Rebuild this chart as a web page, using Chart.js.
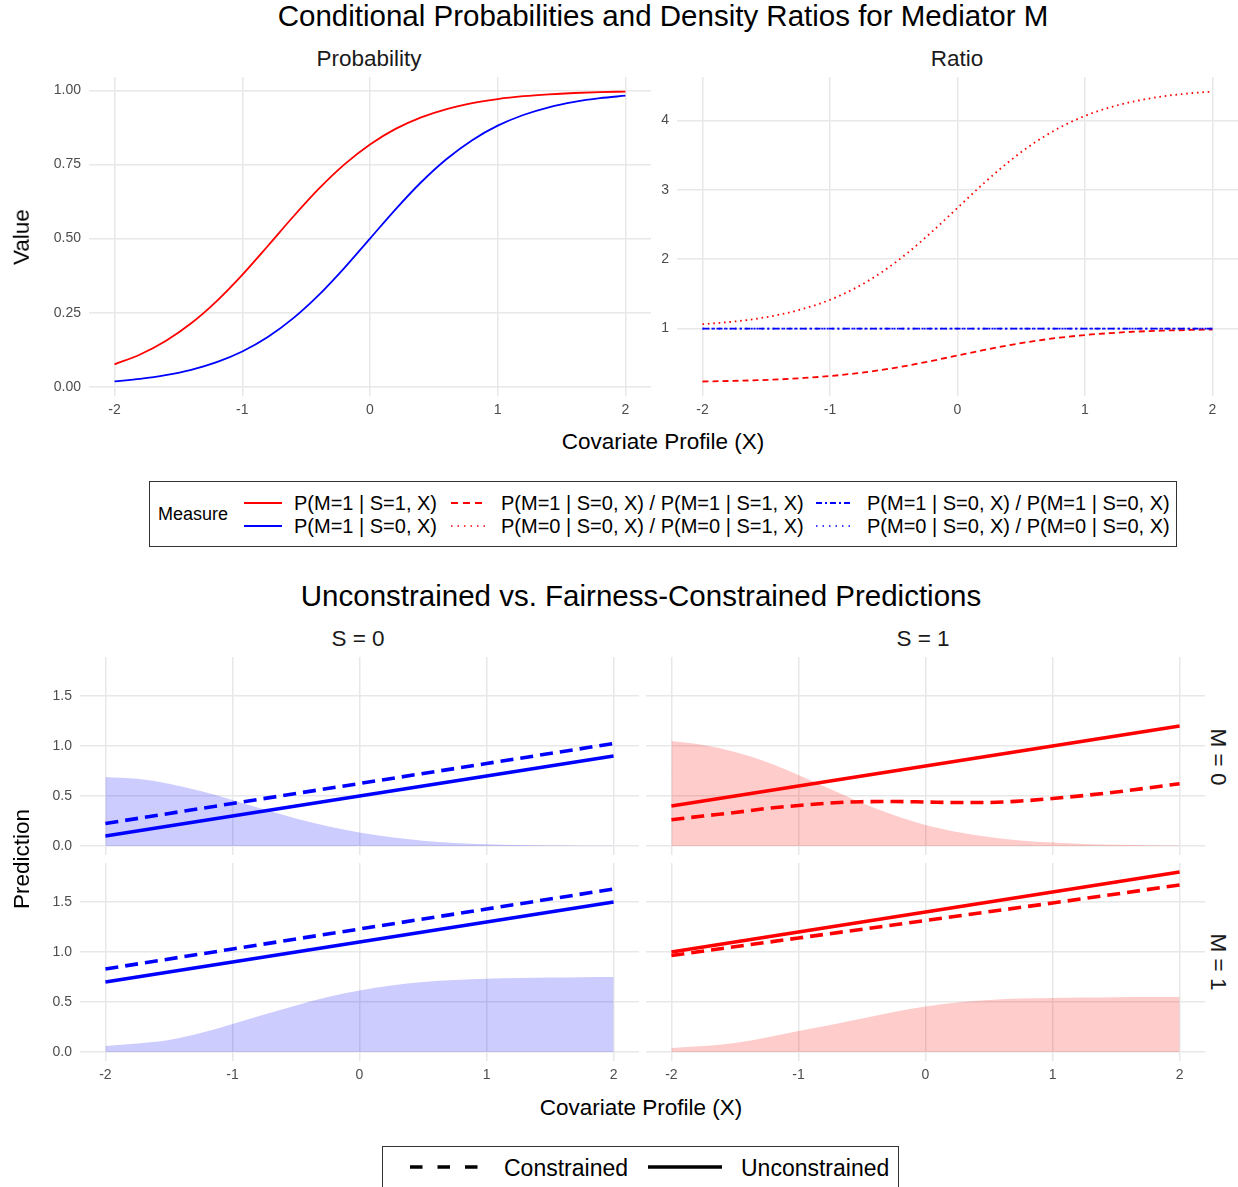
<!DOCTYPE html>
<html><head><meta charset="utf-8">
<script src="https://cdn.jsdelivr.net/npm/chart.js@4.4.1/dist/chart.umd.min.js"></script>
<style>
html,body{margin:0;padding:0;background:#fff;}
#root{position:relative;width:1238px;height:1187px;overflow:hidden;font-family:"Liberation Sans",Arial,Helvetica,sans-serif;color:#1a1a1a;}
.t{position:absolute;white-space:nowrap;transform:translate(-50%,-50%);line-height:1;}
.l{position:absolute;white-space:nowrap;transform:translateY(-50%);line-height:1;}
.rl{position:absolute;white-space:nowrap;transform:translate(-50%,-50%) rotate(-90deg);line-height:1;}
.rr{position:absolute;white-space:nowrap;transform:translate(-50%,-50%) rotate(90deg);line-height:1;}
canvas{position:absolute;}
.box{position:absolute;box-sizing:border-box;border:1px solid #333;}
</style></head>
<body><div id="root">
<div class="t" style="left:663px;top:16px;font-size:29.5px;color:#000">Conditional Probabilities and Density Ratios for Mediator M</div>
<div class="t" style="left:369px;top:59px;font-size:22.5px">Probability</div>
<div class="t" style="left:957px;top:59px;font-size:22.5px">Ratio</div>
<div class="t" style="left:663px;top:442px;font-size:22.5px;color:#000">Covariate Profile (X)</div>
<div class="rl" style="left:22px;top:237px;font-size:22.5px;color:#000">Value</div>

<div class="box" style="left:149px;top:481px;width:1028px;height:66px"></div>
<div class="l" style="left:158px;top:514px;font-size:18px;color:#000">Measure</div>
<div class="l" style="left:294px;top:503px;font-size:20px;color:#000">P(M=1 | S=1, X)</div>
<div class="l" style="left:294px;top:526px;font-size:20px;color:#000">P(M=1 | S=0, X)</div>
<div class="l" style="left:501px;top:503px;font-size:20px;color:#000">P(M=1 | S=0, X) / P(M=1 | S=1, X)</div>
<div class="l" style="left:501px;top:526px;font-size:20px;color:#000">P(M=0 | S=0, X) / P(M=0 | S=1, X)</div>
<div class="l" style="left:867px;top:503px;font-size:20px;color:#000">P(M=1 | S=0, X) / P(M=1 | S=0, X)</div>
<div class="l" style="left:867px;top:526px;font-size:20px;color:#000">P(M=0 | S=0, X) / P(M=0 | S=0, X)</div>

<div class="t" style="left:641px;top:596px;font-size:29.5px;color:#000">Unconstrained vs. Fairness-Constrained Predictions</div>
<div class="t" style="left:358px;top:639px;font-size:22.5px">S = 0</div>
<div class="t" style="left:923px;top:639px;font-size:22.5px">S = 1</div>
<div class="rr" style="left:1218px;top:757px;font-size:22.5px">M = 0</div>
<div class="rr" style="left:1218px;top:962px;font-size:22.5px">M = 1</div>
<div class="t" style="left:641px;top:1108px;font-size:22.5px;color:#000">Covariate Profile (X)</div>
<div class="rl" style="left:22px;top:859px;font-size:22.5px;color:#000">Prediction</div>

<div class="box" style="left:382px;top:1146px;width:517px;height:60px"></div>
<div class="l" style="left:504px;top:1168px;font-size:23px;color:#000">Constrained</div>
<div class="l" style="left:741px;top:1168px;font-size:23px;color:#000">Unconstrained</div>

<svg width="1238" height="1187" style="position:absolute;left:0;top:0;pointer-events:none">
  <line x1="244" y1="503" x2="282" y2="503" stroke="#ff0000" stroke-width="1.8"/>
  <line x1="244" y1="526" x2="282" y2="526" stroke="#0000ff" stroke-width="1.8"/>
  <line x1="451" y1="503" x2="487" y2="503" stroke="#ff0000" stroke-width="1.8" stroke-dasharray="7,5"/>
  <line x1="451" y1="526" x2="487" y2="526" stroke="#ff0000" stroke-width="1.6" stroke-dasharray="1.5,5"/>
  <line x1="816" y1="503" x2="853" y2="503" stroke="#0000ff" stroke-width="1.8" stroke-dasharray="6,3,2,3"/>
  <line x1="816" y1="526" x2="853" y2="526" stroke="#0000ff" stroke-width="1.6" stroke-dasharray="1.5,5"/>
  <line x1="410" y1="1167" x2="482" y2="1167" stroke="#000" stroke-width="3.6" stroke-dasharray="12.5,15"/>
  <line x1="648" y1="1167" x2="722" y2="1167" stroke="#000" stroke-width="3.6"/>
</svg>
</div>
<script>
// ---------- DATA ----------
const xTicks = [-2, -1, 0, 1, 2];
const xTickLabels = ["-2", "-1", "0", "1", "2"];
const probTicks = [0, 0.25, 0.5, 0.75, 1];
const probTickLabels = ["0.00", "0.25", "0.50", "0.75", "1.00"];
const ratioTicks = [1, 2, 3, 4];
const ratioTickLabels = ["1", "2", "3", "4"];
const predTicks = [0, 0.5, 1, 1.5];
const predTickLabels = ["0.0", "0.5", "1.0", "1.5"];

// top panels: covariate grid
const xProfile = [-2, -1.8, -1.6, -1.4, -1.2, -1, -0.8, -0.6, -0.4, -0.2, 0, 0.2, 0.4, 0.6, 0.8, 1, 1.2, 1.4, 1.6, 1.8, 2];
const pM1_S1 = [0.0759, 0.1091, 0.1545, 0.2142, 0.2891, 0.3775, 0.4750, 0.5744, 0.6682, 0.7503, 0.8176, 0.8699, 0.9089, 0.9370, 0.9569, 0.9707, 0.9802, 0.9866, 0.9910, 0.9939, 0.9959];
const pM1_S0 = [0.0180, 0.0266, 0.0392, 0.0573, 0.0832, 0.1192, 0.1680, 0.2315, 0.3100, 0.4013, 0.5000, 0.5987, 0.6900, 0.7685, 0.8320, 0.8808, 0.9168, 0.9427, 0.9608, 0.9734, 0.9820];
const ratioM1_S0vsS1 = [0.237, 0.244, 0.254, 0.267, 0.288, 0.316, 0.354, 0.403, 0.464, 0.535, 0.612, 0.688, 0.759, 0.820, 0.869, 0.907, 0.935, 0.956, 0.970, 0.979, 0.986];
const ratioM0_S0vsS1 = [1.063, 1.093, 1.136, 1.200, 1.290, 1.415, 1.585, 1.806, 2.079, 2.397, 2.741, 3.085, 3.402, 3.676, 3.897, 4.067, 4.192, 4.282, 4.346, 4.389, 4.419];
const ratioM1_S0vsS0 = [1, 1, 1, 1, 1, 1, 1, 1, 1, 1, 1, 1, 1, 1, 1, 1, 1, 1, 1, 1, 1];
const ratioM0_S0vsS0 = [1, 1, 1, 1, 1, 1, 1, 1, 1, 1, 1, 1, 1, 1, 1, 1, 1, 1, 1, 1, 1];

// bottom panels
const xDens = [-2, -1.75, -1.5, -1.25, -1, -0.75, -0.5, -0.25, 0, 0.25, 0.5, 0.75, 1, 1.25, 1.5, 1.75, 2];
const densS0M0 = [0.69, 0.672, 0.623, 0.55, 0.46, 0.365, 0.276, 0.198, 0.135, 0.087, 0.053, 0.031, 0.018, 0.010, 0.005, 0.003, 0.002];
const densS1M0 = [1.05, 1.01, 0.94, 0.84, 0.71, 0.57, 0.43, 0.31, 0.21, 0.14, 0.09, 0.055, 0.034, 0.02, 0.013, 0.008, 0.005];
const densS0M1 = [0.06, 0.085, 0.12, 0.19, 0.28, 0.375, 0.465, 0.55, 0.615, 0.665, 0.70, 0.72, 0.733, 0.74, 0.745, 0.748, 0.75];
const densS1M1 = [0.04, 0.06, 0.09, 0.145, 0.21, 0.27, 0.335, 0.40, 0.455, 0.495, 0.52, 0.535, 0.54, 0.545, 0.548, 0.55, 0.55];

const xLine = [-2, -1, 0, 1, 2];
const uncS0M0 = [0.1, 0.3, 0.5, 0.7, 0.9];
const conS0M0 = [0.225, 0.425, 0.625, 0.825, 1.025];
const uncS0M1 = [0.7, 0.9, 1.1, 1.3, 1.5];
const conS0M1 = [0.83, 1.03, 1.23, 1.43, 1.63];
const uncS1M0 = [0.4, 0.6, 0.8, 1.0, 1.2];
const conS1M0 = [0.263, 0.30, 0.335, 0.375, 0.405, 0.43, 0.443, 0.445, 0.44, 0.435, 0.435, 0.45, 0.475, 0.505, 0.54, 0.58, 0.623]; // on xDens
const uncS1M1 = [1.0, 1.2, 1.4, 1.6, 1.8];
const conS1M1 = [0.965, 1.14, 1.315, 1.49, 1.67];

// ---------- STYLE ----------
const RED = '#ff0000', BLUE = '#0000ff';
const RED_FILL = 'rgba(255,0,0,0.2)', BLUE_FILL = 'rgba(0,0,255,0.2)';
const GRID = '#e8e8e8', TICK = '#4d4d4d';
const FONT = '"Liberation Sans", Arial, sans-serif';
Chart.defaults.font.family = FONT;

const pts = (xs, ys) => xs.map((x, i) => ({x: x, y: ys[i]}));
const line = (xs, ys, color, width, dash, curve) => ({
  data: pts(xs, ys), borderColor: color, borderWidth: width, borderDash: dash || [],
  fill: false, pointRadius: 0, order: 1,
  tension: curve ? 0.4 : 0, cubicInterpolationMode: curve ? 'monotone' : 'default'
});
const area = (xs, ys, color) => ({
  data: pts(xs, ys), backgroundColor: color, borderColor: 'rgba(0,0,0,0)', borderWidth: 0,
  fill: 'origin', pointRadius: 0, order: 2, tension: 0.4, cubicInterpolationMode: 'monotone'
});

const root = document.getElementById('root');
function zeroPad(s) { s.paddingTop = 0; s.paddingBottom = 0; s.paddingLeft = 0; s.paddingRight = 0; }
function panel(o) {
  const c = document.createElement('canvas');
  const W = o.yw + o.pw, H = o.ph + o.xh;
  c.width = W; c.height = H;
  c.style.left = (o.px - o.yw) + 'px'; c.style.top = o.py + 'px';
  c.style.width = W + 'px'; c.style.height = H + 'px';
  root.insertBefore(c, root.firstChild);
  new Chart(c, {
    type: 'line',
    data: {datasets: o.datasets},
    options: {
      responsive: false, maintainAspectRatio: false, animation: false, devicePixelRatio: 1,
      layout: {padding: 0},
      plugins: {legend: {display: false}, tooltip: {enabled: false}},
      scales: {
        x: {
          type: 'linear', min: -2.2, max: 2.2,
          afterBuildTicks: s => { s.ticks = xTicks.map(v => ({value: v})); },
          afterFit: s => { s.height = o.xh; zeroPad(s); },
          grid: {color: GRID, lineWidth: 1.5, drawTicks: false},
          border: {display: false},
          ticks: {display: o.showX, color: TICK, font: {size: 14}, padding: 6, maxRotation: 0, autoSkip: false,
                  callback: v => xTickLabels[xTicks.indexOf(v)]}
        },
        y: {
          type: 'linear', min: o.ymin, max: o.ymax,
          afterBuildTicks: s => { s.ticks = o.yticks.map(v => ({value: v})); },
          afterFit: s => { s.width = o.yw; zeroPad(s); },
          grid: {color: GRID, lineWidth: 1.5, drawTicks: false},
          border: {display: false},
          ticks: {display: o.showY, color: TICK, font: {size: 14}, padding: 8, autoSkip: false,
                  callback: v => o.ylabels[o.yticks.indexOf(v)]}
        }
      }
    }
  });
}

// Top-left: Probability
panel({px: 89, py: 77, pw: 562, ph: 319, yw: 60, xh: 30, ymin: -0.031, ymax: 1.045,
  yticks: probTicks, ylabels: probTickLabels, showX: true, showY: true,
  datasets: [
    line(xProfile, pM1_S1, RED, 1.8, [], true),
    line(xProfile, pM1_S0, BLUE, 1.8, [], true)
  ]});
// Top-right: Ratio
panel({px: 677, py: 77, pw: 561, ph: 319, yw: 35, xh: 30, ymin: 0.028, ymax: 4.628,
  yticks: ratioTicks, ylabels: ratioTickLabels, showX: true, showY: true,
  datasets: [
    line(xProfile, ratioM1_S0vsS0, BLUE, 1.8, [6, 3, 2, 3], true),
    line(xProfile, ratioM0_S0vsS0, BLUE, 1.8, [1.6, 3.8], true),
    line(xProfile, ratioM1_S0vsS1, RED, 1.8, [6, 4], true),
    line(xProfile, ratioM0_S0vsS1, RED, 1.8, [1.6, 3.8], true)
  ]});

const DASH = [13, 7];
// Bottom: S=0, M=0
panel({px: 80, py: 657, pw: 559, ph: 198, yw: 60, xh: 0, ymin: -0.09, ymax: 1.89,
  yticks: predTicks, ylabels: predTickLabels, showX: false, showY: true,
  datasets: [
    line(xLine, conS0M0, BLUE, 3.6, DASH, false),
    line(xLine, uncS0M0, BLUE, 3.6, [], false),
    area(xDens, densS0M0, BLUE_FILL)
  ]});
// S=1, M=0
panel({px: 646, py: 657, pw: 559, ph: 198, yw: 0, xh: 0, ymin: -0.09, ymax: 1.89,
  yticks: predTicks, ylabels: predTickLabels, showX: false, showY: false,
  datasets: [
    line(xDens, conS1M0, RED, 3.6, DASH, true),
    line(xLine, uncS1M0, RED, 3.6, [], false),
    area(xDens, densS1M0, RED_FILL)
  ]});
// S=0, M=1
panel({px: 80, py: 863, pw: 559, ph: 198, yw: 60, xh: 30, ymin: -0.09, ymax: 1.89,
  yticks: predTicks, ylabels: predTickLabels, showX: true, showY: true,
  datasets: [
    line(xLine, conS0M1, BLUE, 3.6, DASH, false),
    line(xLine, uncS0M1, BLUE, 3.6, [], false),
    area(xDens, densS0M1, BLUE_FILL)
  ]});
// S=1, M=1
panel({px: 646, py: 863, pw: 559, ph: 198, yw: 0, xh: 30, ymin: -0.09, ymax: 1.89,
  yticks: predTicks, ylabels: predTickLabels, showX: true, showY: false,
  datasets: [
    line(xLine, conS1M1, RED, 3.6, DASH, false),
    line(xLine, uncS1M1, RED, 3.6, [], false),
    area(xDens, densS1M1, RED_FILL)
  ]});
</script>
</body></html>
